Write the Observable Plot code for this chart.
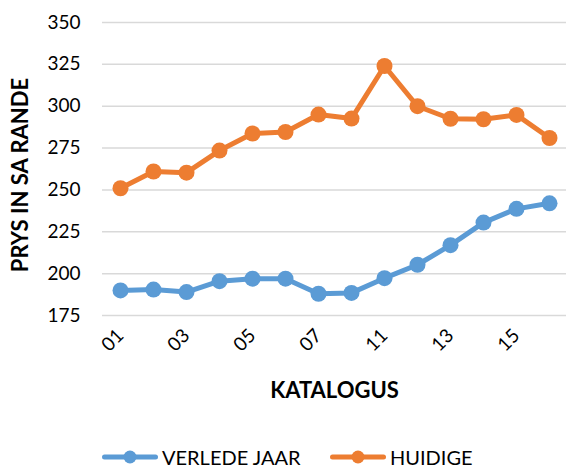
<!DOCTYPE html>
<html>
<head>
<meta charset="utf-8">
<script src="https://cdn.jsdelivr.net/npm/d3@7"></script>
<script src="https://cdn.jsdelivr.net/npm/@observablehq/plot@0.6"></script>
<style>
  html, body { margin: 0; padding: 0; background: #fff; }
  body { width: 566px; height: 468px; overflow: hidden; font-family: Lato, "Open Sans", sans-serif; }
  #legend { position: relative; width: 566px; height: 22px; font-size: 20px; color: #000; }
  #legend .item { position: absolute; top: 0; height: 22px; display: flex; align-items: center; }
  #legend svg { display: block; margin-right: 4px; }
</style>
</head>
<body>
<div id="chart"></div>
<div id="legend"></div>
<script>
const catalogues = ["01","02","03","04","05","06","07","09","11","12","13","14","15","16"];
const verledeJaar = [190, 190.5, 189, 195.5, 197, 197, 188, 188.5, 197.3, 205.3, 217, 230.5, 238.7, 242];
const huidige = [251, 261, 260.3, 273.5, 283.7, 284.6, 295, 292.6, 324, 300, 292.5, 292.2, 294.8, 281];
const xTickLabels = ["01","03","05","07","11","13","15"];
const yTicks = [175, 200, 225, 250, 275, 300, 325, 350];
const seriesNames = ["VERLEDE JAAR", "HUIDIGE"];
const seriesColors = ["#5B9BD5", "#ED7D31"];

const rows = [];
catalogues.forEach((c, i) => {
  rows.push({cat: c, value: verledeJaar[i], series: seriesNames[0]});
  rows.push({cat: c, value: huidige[i], series: seriesNames[1]});
});

const chart = Plot.plot({
  width: 566,
  height: 446,
  marginLeft: 102,
  marginRight: 0,
  marginTop: 22,
  marginBottom: 131,
  style: {fontFamily: "Lato, 'Open Sans', sans-serif", fontSize: "19px", color: "#000", background: "#fff"},
  x: {type: "point", domain: catalogues, padding: 0.5, label: null},
  y: {domain: [175, 350], label: null},
  color: {domain: seriesNames, range: seriesColors},
  marks: [
    Plot.gridY(yTicks, {stroke: "#d9d9d9", strokeOpacity: 1, strokeWidth: 1.5}),
    Plot.axisY(yTicks, {tickSize: 0, tickPadding: 22, label: null, fontSize: 19}),
    Plot.axisX(xTickLabels, {tickSize: 0, tickPadding: 17, tickRotate: -45, label: null, fontSize: 19}),
    Plot.line(rows, {x: "cat", y: "value", z: "series", stroke: "series", strokeWidth: 5}),
    Plot.dot(rows, {x: "cat", y: "value", fill: "series", r: 8}),
    Plot.text(["KATALOGUS"], {frameAnchor: "bottom", dy: 75, text: d => d, fontWeight: "bold", fontSize: 22, lineAnchor: "middle", textAnchor: "middle"}),
    Plot.text(["PRYS IN SA RANDE"], {frameAnchor: "left", dx: -82, dy: 6, rotate: -90, text: d => d, fontWeight: "bold", fontSize: 22, lineAnchor: "middle", textAnchor: "middle"})
  ]
});
document.getElementById("chart").appendChild(chart);

const legend = document.getElementById("legend");
const legendX = [102, 330];
seriesNames.forEach((name, i) => {
  const item = document.createElement("div");
  item.className = "item";
  item.style.left = legendX[i] + "px";
  item.innerHTML = `<svg width="56" height="22"><line x1="2.5" x2="53.5" y1="11" y2="11" stroke="${seriesColors[i]}" stroke-width="5" stroke-linecap="round"/><circle cx="28" cy="11" r="6.5" fill="${seriesColors[i]}"/></svg><span>${name}</span>`;
  legend.appendChild(item);
});
</script>
</body>
</html>
